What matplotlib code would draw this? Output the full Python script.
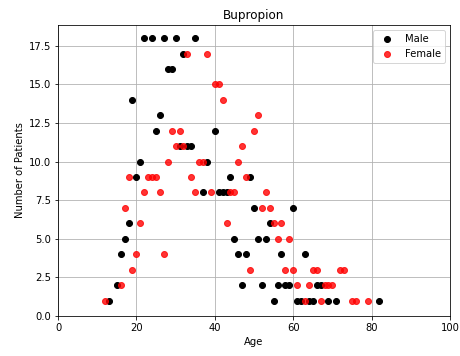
import matplotlib
matplotlib.use("Agg")
import matplotlib.pyplot as plt

# Male patients: (age, count)
male_age = [22, 24, 27, 30, 35, 32, 28, 29, 19, 26, 25, 40,
            31, 33, 34, 21, 38, 20, 44, 49, 37, 41, 42, 43,
            50, 60, 18, 54, 17, 45, 51, 53, 16, 46, 48, 57, 63,
            15, 47, 52, 56, 58, 59, 66, 67,
            13, 55, 61, 62, 64, 65, 69, 71, 82]
male_count = [18, 18, 18, 18, 18, 17, 16, 16, 14, 13, 12, 12,
              11, 11, 11, 10, 10, 9, 9, 9, 8, 8, 8, 8,
              7, 7, 6, 6, 5, 5, 5, 5, 4, 4, 4, 4, 4,
              2, 2, 2, 2, 2, 2, 2, 2,
              1, 1, 1, 1, 1, 1, 1, 1, 1]

# Female patients: (age, count)
female_age = [33, 38, 40, 41, 42, 51, 29, 31, 50,
              30, 32, 47, 28, 36, 37, 46,
              18, 23, 24, 25, 34, 48,
              22, 26, 35, 39, 44, 45, 53,
              17, 52, 54, 21, 43, 55, 57, 56, 59, 20, 27,
              19, 49, 58, 60, 65, 66, 72, 73,
              16, 61, 64, 68, 69, 70,
              12, 63, 67, 75, 76, 79]
female_count = [17, 17, 15, 15, 14, 13, 12, 12, 12,
                11, 11, 11, 10, 10, 10, 10,
                9, 9, 9, 9, 9, 9,
                8, 8, 8, 8, 8, 8, 8,
                7, 7, 7, 6, 6, 6, 6, 5, 5, 4, 4,
                3, 3, 3, 3, 3, 3, 3, 3,
                2, 2, 2, 2, 2, 2,
                1, 1, 1, 1, 1, 1]

fig = plt.figure(figsize=(460 / 72, 356 / 72), dpi=72)
ax = fig.add_axes([58 / 460, 1 - 316 / 356, 392 / 460, 291 / 356])

ax.scatter(male_age, male_count, color="black", s=36, label="Male", zorder=3)
ax.scatter(female_age, female_count, color="red", alpha=0.8, s=36, label="Female", zorder=3)

ax.set_xlim(0, 100)
ax.set_ylim(0, 18.85)
ax.set_yticks([0, 2.5, 5, 7.5, 10, 12.5, 15, 17.5])
ax.grid(True, zorder=0)
ax.set_axisbelow(True)

ax.set_title("Bupropion")
ax.set_xlabel("Age")
ax.set_ylabel("Number of Patients")
ax.legend(loc="upper right")

fig.savefig("out.png", dpi=72)
